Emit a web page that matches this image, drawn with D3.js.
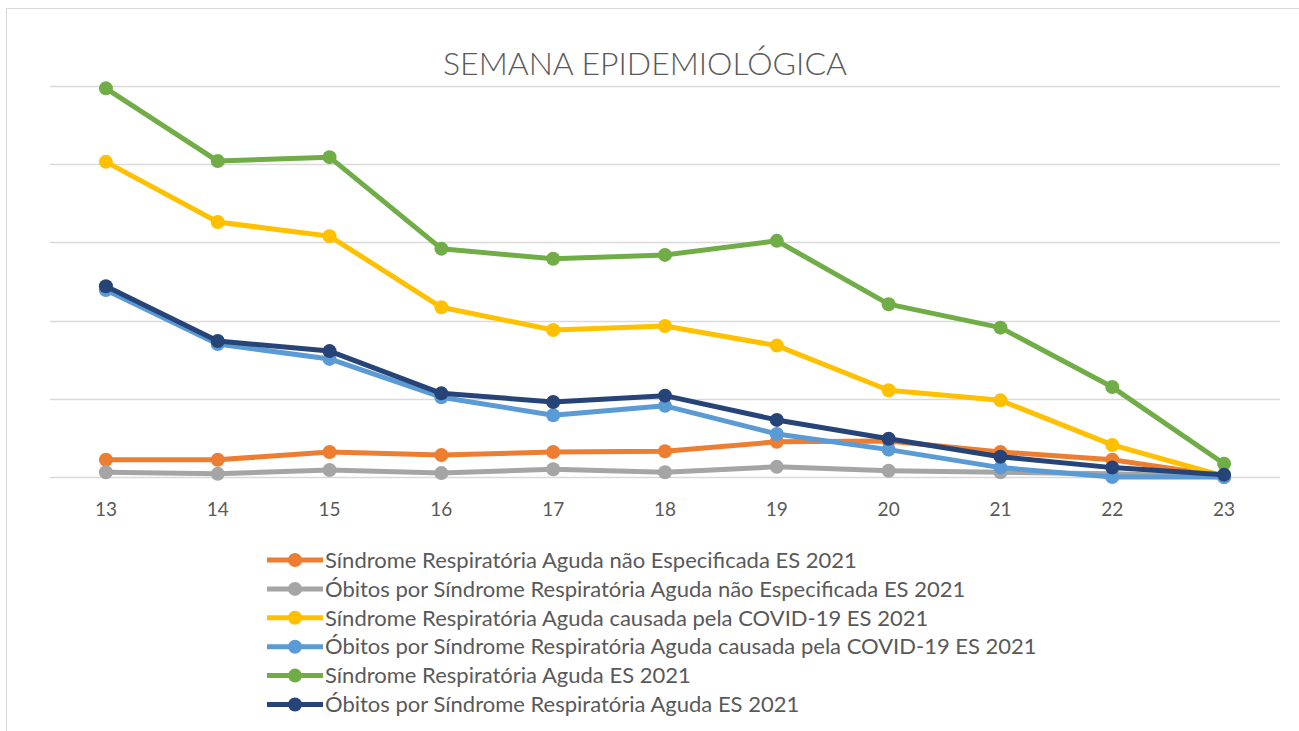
<!DOCTYPE html>
<html>
<head>
<meta charset="utf-8">
<script src="https://cdn.jsdelivr.net/npm/d3@7"></script>
<style>
  body { margin: 0; background: #fff; }
</style>
</head>
<body>
<div id="chart"></div>
<script>
const width = 1299;
const height = 731;

// weeks on the x axis
const weeks = ["13", "14", "15", "16", "17", "18", "19", "20", "21", "22", "23"];
// hidden y ticks (no labels shown in the original)
const yTicks = [0, 100, 200, 300, 400, 500];

// series values
const sragNaoEspec     = [22, 22, 32, 28, 32, 33, 45, 46, 32, 22, 1];
const obitosNaoEspec   = [6, 4, 9, 5, 10, 6, 13, 8, 6, 4, 0];
const sragCovid        = [403, 326, 308, 217, 188, 193, 168, 111, 98, 41, 1];
const obitosCovid      = [239, 170, 151, 102, 79, 91, 55, 35, 12, 0, 0];
const sragTotal        = [497, 404, 409, 292, 279, 284, 302, 221, 191, 115, 17];
const obitosTotal      = [244, 174, 161, 107, 96, 104, 73, 49, 26, 12, 3];

const seriesNames = [
  "Síndrome Respiratória Aguda não Especificada ES 2021",
  "Óbitos por Síndrome Respiratória Aguda não Especificada ES 2021",
  "Síndrome Respiratória Aguda causada pela COVID-19 ES 2021",
  "Óbitos por Síndrome Respiratória Aguda causada pela COVID-19 ES 2021",
  "Síndrome Respiratória Aguda ES 2021",
  "Óbitos por Síndrome Respiratória Aguda ES 2021"
];
const seriesColors = ["#ED7D31", "#A5A5A5", "#FFC000", "#5B9BD5", "#70AD47", "#264478"];
const seriesValues = [sragNaoEspec, obitosNaoEspec, sragCovid, obitosCovid, sragTotal, obitosTotal];

const series = seriesNames.map((name, i) => ({
  name: name,
  color: seriesColors[i],
  values: seriesValues[i]
}));

const font = "Lato, sans-serif";
const textColor = "#595959";

const svg = d3.select("#chart").append("svg")
  .attr("width", width)
  .attr("height", height)
  .style("font-family", font);

// chart frame (only left and top edges visible in the crop)
svg.append("path")
  .attr("d", `M6.5,${height} V8.5 H${width}`)
  .attr("fill", "none")
  .attr("stroke", "#d9d9d9")
  .attr("stroke-width", 1);

const x = d3.scaleBand()
  .domain(weeks)
  .range([50, 1280]);

const y = d3.scaleLinear()
  .domain([0, 500])
  .range([477, 86]);

// gridlines
svg.append("g")
  .selectAll("line")
  .data(yTicks)
  .join("line")
    .attr("x1", 50)
    .attr("x2", 1280)
    .attr("y1", d => Math.round(y(d)) + 0.5)
    .attr("y2", d => Math.round(y(d)) + 0.5)
    .attr("stroke", "#d9d9d9")
    .attr("stroke-width", 1.5);

// x axis labels
const xAxis = svg.append("g")
  .attr("transform", `translate(0, ${y(0)})`)
  .call(d3.axisBottom(x).tickSize(0).tickPadding(26));
xAxis.select(".domain").remove();
xAxis.selectAll("text")
  .style("font-family", font)
  .style("font-size", "19px")
  .attr("fill", textColor);

// title
svg.append("text")
  .attr("x", 645)
  .attr("y", 75)
  .attr("text-anchor", "middle")
  .style("font-size", "32px")
  .style("font-weight", "300")
  .attr("fill", textColor)
  .text("SEMANA EPIDEMIOLÓGICA");

const line = d3.line()
  .x((d, i) => x(weeks[i]) + x.bandwidth() / 2)
  .y(d => y(d));

// series lines + markers, drawn in Excel order
const g = svg.append("g");
series.forEach(s => {
  g.append("path")
    .datum(s.values)
    .attr("d", line)
    .attr("fill", "none")
    .attr("stroke", s.color)
    .attr("stroke-width", 5)
    .attr("stroke-linejoin", "round");

  g.append("g")
    .selectAll("circle")
    .data(s.values)
    .join("circle")
      .attr("cx", (d, i) => x(weeks[i]) + x.bandwidth() / 2)
      .attr("cy", d => y(d))
      .attr("r", 7)
      .attr("fill", s.color);
});

// legend
const legend = svg.append("g")
  .attr("transform", "translate(267, 560)");

const rows = legend.selectAll("g")
  .data(series)
  .join("g")
    .attr("transform", (d, i) => `translate(0, ${i * 28.9})`);

rows.append("line")
  .attr("x1", 0)
  .attr("x2", 56)
  .attr("stroke", d => d.color)
  .attr("stroke-width", 5);

rows.append("circle")
  .attr("cx", 28)
  .attr("r", 7)
  .attr("fill", d => d.color);

rows.append("text")
  .attr("x", 58)
  .attr("dy", "0.35em")
  .style("font-size", "22px")
  .attr("fill", textColor)
  .text(d => d.name);
</script>
</body>
</html>
